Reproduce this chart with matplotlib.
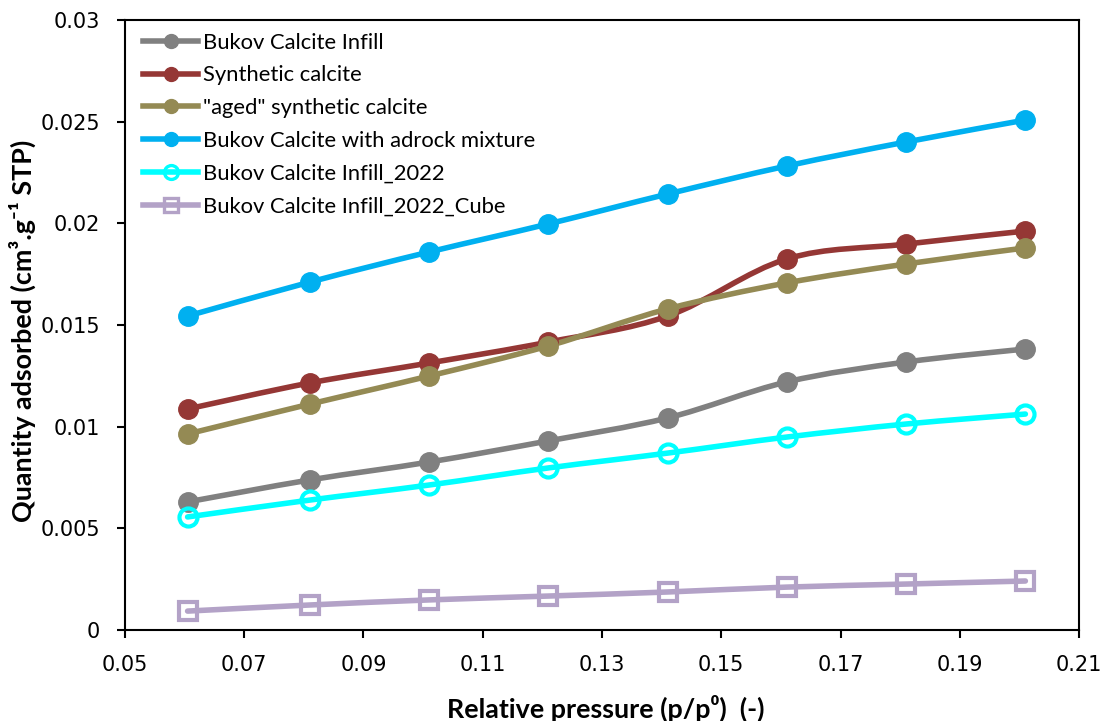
import numpy as np
import matplotlib
matplotlib.use("Agg")
import matplotlib.pyplot as plt
from matplotlib.path import Path
from matplotlib.patches import PathPatch
from matplotlib.lines import Line2D

# Relative pressure points
pressure = [0.0605, 0.081, 0.101, 0.121, 0.141, 0.161, 0.181, 0.201]

series_names = [
    "Bukov Calcite Infill",
    "Synthetic calcite",
    "\"aged\" synthetic calcite",
    "Bukov Calcite with adrock mixture",
    "Bukov Calcite Infill_2022",
    "Bukov Calcite Infill_2022_Cube",
]

bukov_infill = [0.00630, 0.00738, 0.00826, 0.00930, 0.01043, 0.01220, 0.01318, 0.01382]
synthetic = [0.01087, 0.01215, 0.01313, 0.01416, 0.01544, 0.01825, 0.01898, 0.01962]
aged_synthetic = [0.00964, 0.01111, 0.01249, 0.01397, 0.01579, 0.01707, 0.01800, 0.01879]
adrock_mixture = [0.01544, 0.01711, 0.01859, 0.01997, 0.02144, 0.02282, 0.02400, 0.02508]
infill_2022 = [0.00556, 0.00639, 0.00713, 0.00797, 0.00870, 0.00949, 0.01013, 0.01062]
infill_2022_cube = [0.00093, 0.00123, 0.00148, 0.00167, 0.00187, 0.00211, 0.00226, 0.00241]

colors = ["#808080", "#953735", "#948A54", "#00B0F0", "#00FFFF", "#B3A2C7"]
markers = ["o", "o", "o", "o", "o", "s"]
open_marker = [False, False, False, False, True, True]

x_ticks = [0.05, 0.07, 0.09, 0.11, 0.13, 0.15, 0.17, 0.19, 0.21]
y_ticks = [0, 0.005, 0.01, 0.015, 0.02, 0.025, 0.03]
y_tick_labels = ["0", "0.005", "0.01", "0.015", "0.02", "0.025", "0.03"]

FONT = ["Lato", "DejaVu Sans"]
TICK_FONT = ["DejaVu Sans"]


def smooth_path(x, y, tension=0.5):
    """Cardinal-spline style Bezier path through the data points."""
    x = np.asarray(x, float)
    y = np.asarray(y, float)
    n = len(x)
    verts = [(x[0], y[0])]
    codes = [Path.MOVETO]
    for i in range(n - 1):
        p0 = np.array([x[max(i - 1, 0)], y[max(i - 1, 0)]])
        p1 = np.array([x[i], y[i]])
        p2 = np.array([x[i + 1], y[i + 1]])
        p3 = np.array([x[min(i + 2, n - 1)], y[min(i + 2, n - 1)]])
        c1 = p1 + (p2 - p0) * tension / 3.0
        c2 = p2 - (p3 - p1) * tension / 3.0
        verts += [tuple(c1), tuple(c2), tuple(p2)]
        codes += [Path.CURVE4] * 3
    return Path(verts, codes)


fig = plt.figure(figsize=(11.05, 7.21), dpi=100)
ax = fig.add_axes([0.1131, 0.1262, 0.8634, 0.8461])

all_series = [bukov_infill, synthetic, aged_synthetic, adrock_mixture, infill_2022, infill_2022_cube]
handles = []
for vals, name, c, m, op in zip(all_series, series_names, colors, markers, open_marker):
    patch = PathPatch(smooth_path(pressure, vals), facecolor="none", edgecolor=c,
                      lw=4, capstyle="round", joinstyle="round", zorder=2)
    ax.add_patch(patch)
    if op:
        ax.plot(pressure, vals, linestyle="none", marker=m, markersize=13 if m == "o" else 13.5,
                markerfacecolor="none", markeredgecolor=c, markeredgewidth=3, zorder=3)
    else:
        ax.plot(pressure, vals, linestyle="none", marker=m, markersize=14,
                markerfacecolor=c, markeredgecolor=c, zorder=3)
    handles.append(Line2D([0], [0], color=c, lw=4, marker=m,
                          markersize=10 if m == "o" else 10.5,
                          markerfacecolor="none" if op else c,
                          markeredgecolor=c, markeredgewidth=2.4 if op else 1))

ax.set_xlim(0.05, 0.21)
ax.set_ylim(0, 0.03)
ax.set_xticks(x_ticks)
ax.set_xticklabels([f"{t:.2f}" for t in x_ticks], fontfamily=TICK_FONT, fontsize=15)
ax.set_yticks(y_ticks)
ax.set_yticklabels(y_tick_labels, fontfamily=TICK_FONT, fontsize=15)
ax.tick_params(axis="both", direction="out", length=6, width=1.5, colors="black")
ax.tick_params(axis="x", pad=12)
ax.tick_params(axis="y", pad=12)
for s in ax.spines.values():
    s.set_linewidth(1.5)
    s.set_color("black")

ax.set_xlabel("Relative pressure (p/p\u2070)  (-)", fontsize=19.4, fontweight="bold",
              fontfamily=FONT)
ax.xaxis.set_label_coords(0.504, -0.128)
ax.xaxis.label.set_va("center")
ax.set_ylabel("Quantity adsorbed (cm\u00b3.g\u207b\u00b9 STP)", fontsize=19.4, fontweight="bold",
              fontfamily=FONT)
ax.yaxis.set_label_coords(-0.108, 0.49)
ax.yaxis.label.set_va("center")

leg = ax.legend(handles, series_names, loc="upper left", frameon=False,
                prop={"family": FONT, "size": 15.8}, handlelength=2.55,
                handletextpad=0.2, labelspacing=0.58, borderaxespad=0.4,
                bbox_to_anchor=(0.0, 1.008))

fig.savefig("out.png", dpi=100, facecolor="white")
